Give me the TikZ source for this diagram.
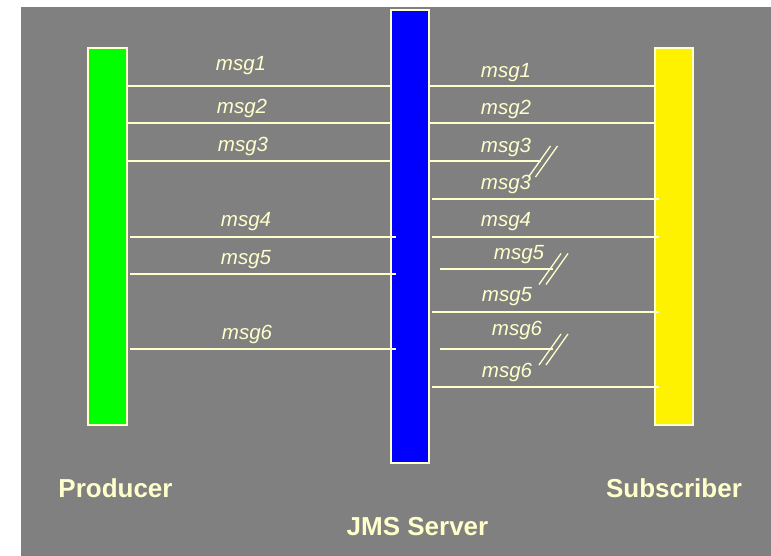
\documentclass[tikz,border=0pt]{standalone}
\usepackage{fontspec}
\setmainfont{Liberation Sans}
\definecolor{pale}{HTML}{FFFFCC}
\definecolor{bggray}{HTML}{808080}
\begin{document}
\begin{tikzpicture}[x=1pt,y=-1pt,
  bar/.style={draw=pale, line width=1.4pt, inner sep=0pt, outer sep=0pt},
  msgline/.style={draw=pale, line width=1.3pt},
  msglabel/.style={text=pale, anchor=base, inner sep=0pt, font=\fontsize{20.5}{24}\selectfont\itshape},
  rolelabel/.style={text=pale, anchor=base, inner sep=0pt, font=\fontsize{26}{30}\selectfont\bfseries},
  brk/.pic={
    \draw[msgline] (-11,15.5) -- (11,-15.5);
    \draw[msgline] (-4,15.5) -- (18,-15.5);
  }]
% canvas and grey panel
\useasboundingbox (0,0) rectangle (771,556);
\fill[white] (0,0) rectangle (771,556);
\fill[bggray] (21,7) rectangle (771,556);

% the three life bars
\node[bar, fill=green, minimum width=39pt, minimum height=377pt] (prod) at (107.5,236.5) {};
\node[bar, fill=blue, minimum width=38pt, minimum height=453pt] (server) at (410,236.5) {};
\node[bar, fill=yellow, minimum width=38pt, minimum height=377pt] (sub) at (674,236.5) {};

% message levels
\coordinate (y1) at (0,86);
\coordinate (y2) at (0,123);
\coordinate (y3) at (0,161);
\coordinate (y3b) at (0,199);
\coordinate (y4) at (0,237);
\coordinate (y5) at (0,269);
\coordinate (y5l) at (0,274);
\coordinate (y5b) at (0,312);
\coordinate (y6) at (0,349);
\coordinate (y6b) at (0,387);

% producer -> server
\draw[msgline] (prod.east |- y1) -- (server.west |- y1);
\draw[msgline] (prod.east |- y2) -- (server.west |- y2);
\draw[msgline] (prod.east |- y3) -- (server.west |- y3);
\draw[msgline] ([xshift=3pt]prod.east |- y4) -- ([xshift=5pt]server.west |- y4);
\draw[msgline] ([xshift=3pt]prod.east |- y5l) -- ([xshift=5pt]server.west |- y5l);
\draw[msgline] ([xshift=3pt]prod.east |- y6) -- ([xshift=5pt]server.west |- y6);

% server -> subscriber
\draw[msgline] (server.east |- y1) -- (sub.west |- y1);
\draw[msgline] (server.east |- y2) -- (sub.west |- y2);
\coordinate (cut3) at (541,161);
\draw[msgline] (server.east |- y3) -- (cut3);
\draw[msgline] ([xshift=3pt]server.east |- y3b) -- ([xshift=4pt]sub.west |- y3b);
\draw[msgline] ([xshift=3pt]server.east |- y4) -- ([xshift=4pt]sub.west |- y4);
\coordinate (cut5) at (553,269);
\draw[msgline] ([xshift=11pt]server.east |- y5) -- (cut5);
\draw[msgline] ([xshift=3pt]server.east |- y5b) -- ([xshift=4pt]sub.west |- y5b);
\coordinate (cut6) at (553,349);
\draw[msgline] ([xshift=11pt]server.east |- y6) -- (cut6);
\draw[msgline] ([xshift=3pt]server.east |- y6b) -- ([xshift=4pt]sub.west |- y6b);

% lost-message marks
\pic at (539.5,161.5) {brk};
\pic at (550,269) {brk};
\pic at (550,349.5) {brk};

% message labels, producer side
\node[msglabel] (l1) at (241,71) {msg1};
\node[msglabel] (l2) at (242,114) {msg2};
\node[msglabel] (l3) at (243,152) {msg3};
\node[msglabel] (l4) at (246,227) {msg4};
\node[msglabel] (l5) at (246,264) {msg5};
\node[msglabel] (l6) at (247,339.5) {msg6};

% message labels, subscriber side
\node[msglabel] (r1) at (506,77.5) {msg1};
\node[msglabel] (r2) at (506,115) {msg2};
\node[msglabel] (r3) at (506,152.7) {msg3};
\node[msglabel] (r3b) at (506,189.3) {msg3};
\node[msglabel] (r4) at (506,227) {msg4};
\node[msglabel] (r5) at (519,259.5) {msg5};
\node[msglabel] (r5b) at (507,301.7) {msg5};
\node[msglabel] (r6) at (517,335) {msg6};
\node[msglabel] (r6b) at (507,377.3) {msg6};

% role captions
\node[rolelabel] (tp) at (115.5,497) {Producer};
\node[rolelabel] (ts) at (674,497) {Subscriber};
\node[rolelabel] (tj) at (417.5,535) {JMS Server};
\end{tikzpicture}
\end{document}
